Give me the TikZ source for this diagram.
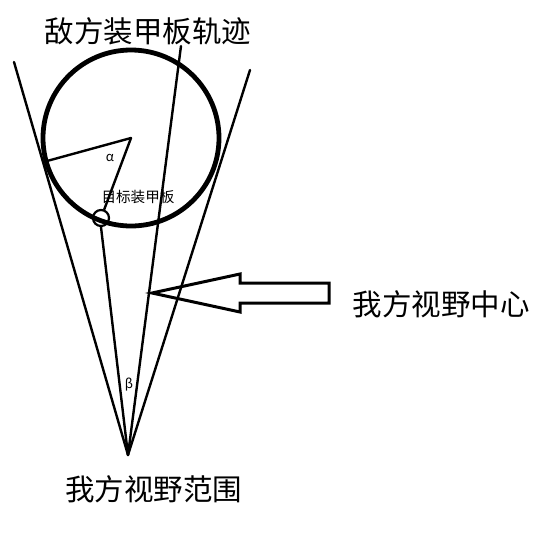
\documentclass[tikz,border=0pt]{standalone}
\usepackage{fontspec}
\newfontfamily\cjk{Noto Sans CJK SC}
\def\bigsize{\fontsize{29.5}{32}\selectfont}

\begin{document}
\begin{tikzpicture}[x=1pt, y=-1pt, line width=2.4pt, line cap=round]
    \tikzstyle{big label}=[font=\cjk\bigsize, inner sep=0pt]
    \tikzstyle{small label}=[font=\cjk\fontsize{14.6}{16}\selectfont, inner sep=0pt]
    \tikzstyle{angle label}=[font=\cjk\fontsize{13}{15}\selectfont, inner sep=0pt]
    \tikzstyle{armor}=[circle, draw, line width=2.2pt, minimum size=16pt, inner sep=0pt]
    \tikzstyle{sight}=[line width=2.4pt]

    \useasboundingbox (0,0) rectangle (540,558);

    % Draw the track of the enemy armor
    \coordinate (C) at (131,138);
    \draw[line width=4.8pt] (C) circle (88pt);
    \node[armor] (T) at (101,218) {};
    \coordinate (P) at (47,161);

    % Draw the field of view
    \coordinate (A) at (128,455);
    \coordinate (L) at (14,62);
    \coordinate (R) at (250,70);
    \coordinate (M) at (181,46);
    \draw[sight] (A) -- (L);
    \draw[sight] (A) -- (R);
    \draw[sight] (A) -- (M);
    \draw[sight] (A) -- (T.south);

    % Draw the two radii
    \draw[sight] (C) -- (P);
    \draw[sight] (C) -- (T);

    % Draw the block arrow
    \draw[line width=3pt, line cap=butt, line join=miter]
        (152,293) -- (240,274) -- (240,283) -- (329,283)
        -- (329,303) -- (240,303) -- (240,312) -- cycle;

    % Annotate the picture
    \node[big label] (track) at (148,31) {敌方装甲板轨迹};
    \node[big label] (center) at (441,304) {我方视野中心};
    \node[big label] (range) at (154,489) {我方视野范围};
    \node[small label] (target) at (138,197) {目标装甲板};
    \node[angle label] (alpha) at (110,158) {α};
    \node[angle label] (beta) at (129,385) {β};
\end{tikzpicture}
\end{document}
